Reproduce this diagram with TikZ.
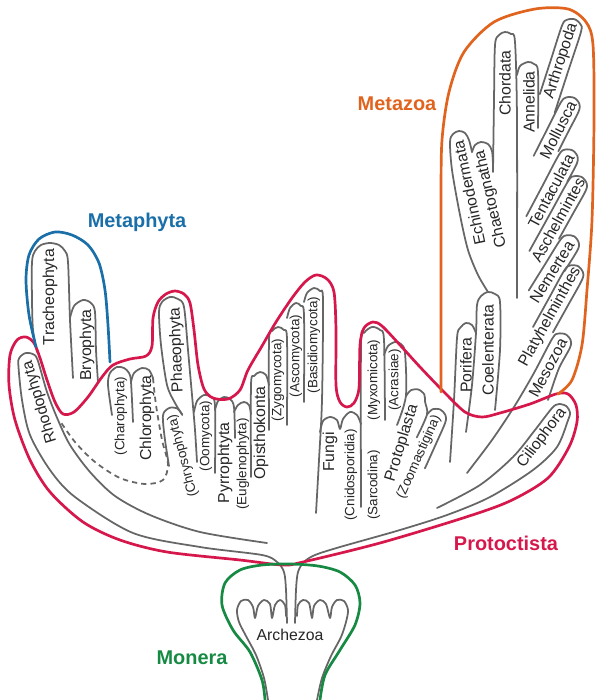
\documentclass[tikz,border=0pt]{standalone}
\usepackage{fontspec}
\setmainfont{Liberation Sans}
\definecolor{lineGray}{HTML}{666666}
\definecolor{protRed}{HTML}{D5174B}
\definecolor{metaBlue}{HTML}{1A6FA8}
\definecolor{zooOrange}{HTML}{E0641E}
\definecolor{moneraGreen}{HTML}{168A43}
\begin{document}
\begin{tikzpicture}[
    x=0.03cm, y=-0.03cm,
    branch/.style={draw=lineGray, line width=1.5pt, line cap=round, line join=round},
    linkdash/.style={branch, line cap=butt, dash pattern=on 4.5pt off 3.5pt},
    boundary/.style={line width=2.3pt, line cap=round, line join=round},
    taxon/.style={font=\fontsize{13.5}{14}\selectfont, inner sep=0pt, text=black!85},
    subtaxon/.style={font=\fontsize{11.5}{12}\selectfont, inner sep=0pt, text=black!85},
    kingdom/.style={font=\fontsize{17}{18}\selectfont\bfseries, inner sep=0pt}
]
\useasboundingbox (0,0) rectangle (597,700);

% -------------------------
% Trunk and Archezoa
% -------------------------
    \draw[branch] plot[smooth] coordinates {(268,700) (264,678) (256,655) (246,636) (239,622) (237,610) (241,601) (248,600) (253,607) (255,618) (258,606) (264,600) (270,604) (272,618) (275,605) (280,600) (285,605) (286,616)};
    \draw[branch] plot[smooth] coordinates {(297,616) (298,605) (303,600) (309,603) (312,618) (314,606) (320,600) (326,604) (330,618) (332,607) (337,600) (344,601) (348,610) (346,622) (341,637) (331,656) (322,678) (317,700)};

% -------------------------
% Left branch (Rhodophyta, Metaphyta, Chlorophyta)
% -------------------------
    % trunk line up into the Rhodophyta finger
    \draw[branch] plot[smooth] coordinates {(287,623) (286,590) (284,572) (277,562) (262,555) (200,547) (133,533) (75,497) (50,470) (30,435) (22,400) (18.4,365.7) (19.2,358.1) (25.1,353.2) (32.7,354.0) (37.6,359.9) (47,392) (58,420) (70,445) (90,472) (115,496) (150,515) (200,532) (267,543)};
    \draw[branch] plot[smooth] coordinates {(37,352) (33,330) (32,300) (32,262) (35,251) (41,245) (50,243) (59,245) (65,251) (68,262) (70,320) (73,378)};
    \draw[branch] plot[smooth] coordinates {(70,318) (74,306) (83,300) (91,303) (95,312) (96,350) (98,382)};
    \draw[branch] plot[smooth] coordinates {(112,415) (108,385) (110,373) (117,367) (124,368) (129,373) (131,382) (133,422)};
    \draw[branch] plot[smooth] coordinates {(131,382) (134,373) (142,368) (149,370) (153,378)};
    % dashed link back to the Metaphyta
    \draw[linkdash] plot[smooth] coordinates {(153,378) (156,405) (162,440) (168,464) (163,480) (145,484) (120,478) (95,462) (75,442) (60,421)};
    \draw[branch] plot[smooth] coordinates {(169,466) (165,440) (162.9,420) (163.9,412.4) (170.0,407.7) (177.6,408.7) (182.3,414.8)};
    \draw[branch] plot[smooth] coordinates {(182.3,414.8) (175,403) (167,385) (161,345) (159,312) (162,302) (170,297) (178,299) (184,307) (188,350) (192,395) (195,430) (197,462)};

% -------------------------
% Middle fingers
% -------------------------
    \draw[branch] plot[smooth] coordinates {(194,412) (197,401) (204,395) (211,397) (215,406) (215,473)};
    \draw[branch] plot[smooth] coordinates {(215,410) (218,401) (224,397) (230,399) (234,407) (235,438)};
    \draw[branch] plot[smooth] coordinates {(234,412) (238,405) (244,402) (249,405) (251,414)};
    \draw[branch] plot[smooth] coordinates {(251,477) (251,385) (254,376) (260,372) (266,375) (269,385)};
    \draw[branch] plot[smooth] coordinates {(269,430) (269,340) (272,331) (278,327) (284,330) (287,339) (287,425)};
    \draw[branch] plot[smooth] coordinates {(287,318) (290,308) (296,303) (301,306) (304,315) (304,402)};
    \draw[branch] plot[smooth] coordinates {(304,302) (307,293) (314,288) (320,291) (323,300) (322,400) (319,460) (316,513)};
    \draw[branch] plot[smooth] coordinates {(320,432) (323,421) (330,417) (337,420) (340,429) (343,419) (350,412) (357,415) (361,424)};
    \draw[branch] plot[smooth] coordinates {(361,507) (361,345) (364,333) (372,327) (380,330) (384,340) (385,420)};
    \draw[branch] plot[smooth] coordinates {(384,355) (388,346) (395,342) (401,344) (405,353) (405.9,396.2) (397,425)};
    \draw[branch] plot[smooth] coordinates {(405.9,396.2) (410.8,390.3) (418.4,389.5) (424.3,394.4) (425.1,402.0) (427.0,414.5) (416.8,437.4)};
    \draw[branch] plot[smooth] coordinates {(427.0,414.5) (432.5,409.3) (440.2,409.5) (445.4,415.0) (445.2,422.7) (435,446) (424.9,468.4)};

% -------------------------
% Right branch (Metazoa, Mesozoa, Ciliophora)
% -------------------------
    \draw[branch] plot[smooth] coordinates {(450,462) (454,400) (457,338) (460,328) (466,323) (472,325) (476,333)};
    \draw[branch] plot[smooth] coordinates {(466,432) (472,385) (476,333) (477,305) (481,296) (488,292) (495,294) (500,302) (500,350) (495,410)};
    \draw[branch] plot[smooth] coordinates {(488,292) (478,275) (468,250) (460,215) (452,170) (450,142) (453,134) (459,131) (465,133) (469,140) (472,152)};
    \draw[branch] plot[smooth] coordinates {(472,152) (475,145) (481,142) (488,144) (492,151) (493,165)};
    \draw[branch] plot[smooth] coordinates {(493,172) (494,100) (495,45) (499,35) (505,32) (511,34) (515,42) (517,120) (517,298)};
    \draw[branch] plot[smooth] coordinates {(517,75) (520,66) (528,62) (534,64) (538,72) (538,128)};
    % slanted fingers
    \draw[branch] plot[smooth] coordinates {(539.8,94.1) (550.9,59.8) (562.0,25.6) (566.9,19.8) (574.6,19.2) (580.4,24.2) (581.0,31.8) (568.6,69.8) (554.7,112.6)};
    \draw[branch] plot[smooth] coordinates {(533.7,155.8) (547.3,129.0) (560.9,102.3) (566.7,97.3) (574.3,97.9) (579.3,103.7) (578.7,111.3) (568.7,130.9) (558.3,151.4)};
    \draw[branch] plot[smooth] coordinates {(526.3,216.3) (542.7,185.4) (559.1,154.5) (565.0,149.6) (572.6,150.4) (577.5,156.3) (576.7,163.9) (567.3,181.6)};
    \draw[branch] plot[smooth] coordinates {(529.4,251.0) (548.8,216.0) (568.2,181.0) (574.2,176.2) (581.8,177.1) (586.6,183.1) (585.7,190.7) (572.6,214.3) (559.0,238.8)};
    \draw[branch] plot[smooth] coordinates {(528.7,290.5) (544.6,265.0) (560.5,239.6) (566.8,235.2) (574.3,236.4) (578.8,242.7) (577.5,250.2) (564.3,271.4)};
    \draw[branch] plot[smooth] coordinates {(533.0,327.0) (549.0,298.1) (564.5,270.1) (570.5,265.4) (578.1,266.2) (582.9,272.2) (582.0,279.9) (567.5,306.2) (552.9,332.4)};
    \draw[branch] plot[smooth] coordinates {(467,473) (492,440) (514,407) (533.5,373.8) (552.3,338.5) (558.2,333.6) (565.8,334.4) (570.7,340.3) (569.9,347.9) (558.7,368.9) (548,400)};
    % Ciliophora finger, its right side back to the trunk
    \draw[branch] plot[smooth] coordinates {(437,508) (480,485) (513,457) (535,430) (552.1,408.0) (558.7,404.1) (566.1,406.0) (570.0,412.6) (568.1,420.0) (557,447) (533,470) (490,497) (447,515) (400,530) (340,547) (315,555) (304,562) (298,572) (296,590) (295,623)};

% -------------------------
% Kingdom outlines
% -------------------------
    \draw[boundary, protRed] plot[smooth cycle] coordinates {(283,565) (240,560) (167,552) (120,540) (83,522) (50,492) (30,460) (15,420) (9,385) (10,355) (17,340) (26,337) (34,343) (40,358) (47,380) (55,402) (63,414) (74,412) (88,397) (102,377) (113,365) (130,359) (146,356) (152,346) (153,318) (158,302) (166,294) (175,291) (184,294) (190,303) (194,330) (198,365) (204,389) (213,398) (228,399) (240,390) (248,370) (262,346) (276,322) (292,298) (305,282) (316,275) (327,279) (334,292) (336,330) (336,385) (340,402) (347,407) (354,403) (359,388) (360,345) (364,328) (373,322) (382,326) (400,345) (420,367) (444,392) (465,412) (482,417) (500,413) (530,404) (556,394) (568,394) (576,405) (577,422) (569,447) (548,478) (510,501) (463,518) (380,543) (303,562)};
    \draw[boundary, metaBlue] plot[smooth] coordinates {(36,347) (29,315) (26,280) (29,255) (39,239) (55,232) (72,235) (88,245) (99,263) (105,290) (108,325) (110,362)};
    \draw[boundary, zooOrange] plot[smooth] coordinates {(441,392) (441,300) (441,200) (442,140) (449,92) (464,52) (494,22) (535,9) (568,9) (586,22) (593,45) (594,120) (592,220) (587,290) (582,345) (572,380) (558,394)};
    \draw[boundary, moneraGreen] plot[smooth] coordinates {(265,700) (262,680) (250,652) (233,630) (222,605) (225,583) (240,570) (262,565) (290,564) (318,566) (340,572) (355,585) (360,603) (355,625) (340,650) (325,675) (320,700)};

% -------------------------
% Taxon labels
% -------------------------
    \node[taxon, rotate=90] (trach) at (50,297) {Tracheophyta};
    \node[taxon, rotate=90] (bryo) at (87,345) {Bryophyta};
    \node[taxon, rotate=107] (rhodo) at (40,402) {Rhodophyta};
    \node[subtaxon, rotate=90] (charo) at (121,416) {(Charophyta)};
    \node[taxon, rotate=90] (chloro) at (147,418) {Chlorophyta};
    \node[taxon, rotate=92] (phaeo) at (177,350) {Phaeophyta};
    \node[subtaxon, rotate=105] (chryso) at (183,456) {(Chrysophyta)};
    \node[subtaxon, rotate=90] (oomy) at (206,436) {(Oomycota)};
    \node[taxon, rotate=90] (pyrro) at (225,463) {Pyrrophtyta};
    \node[subtaxon, rotate=90] (eugleno) at (243,464) {(Euglenophyta)};
    \node[taxon, rotate=90] (opistho) at (261,433) {Opisthokonta};
    \node[subtaxon, rotate=90] (zygo) at (278,380) {(Zygomycota)};
    \node[subtaxon, rotate=90] (asco) at (296,356) {(Ascomycota)};
    \node[subtaxon, rotate=90] (basidio) at (314,345) {(Basidiomycota)};
    \node[taxon, rotate=90] (fungi) at (330,452) {Fungi};
    \node[subtaxon, rotate=90] (cnido) at (351,475) {(Cnidosporidia)};
    \node[subtaxon, rotate=90] (myxo) at (374,380) {(Myxomicota)};
    \node[subtaxon, rotate=90] (sarco) at (374,485) {(Sarcodina)};
    \node[subtaxon, rotate=90] (acras) at (395,380) {(Acrasiae)};
    \node[taxon, rotate=73] (protopl) at (402,443) {Protoplasta};
    \node[subtaxon, rotate=66] (zoomast) at (419,457) {(Zoomastigina)};
    \node[taxon, rotate=90] (porif) at (466,365) {Porifera};
    \node[taxon, rotate=90] (coelent) at (488,350) {Coelenterata};
    \node[taxon, rotate=102] (echino) at (469,193) {Echinodermata};
    \node[taxon, rotate=103] (chaeto) at (491,199) {Chaetognatha};
    \node[taxon, rotate=90] (chord) at (505,83) {Chordata};
    \node[taxon, rotate=90] (annel) at (529,102) {Annelida};
    \node[taxon, rotate=72] (arthro) at (561,61) {Arthropoda};
    \node[taxon, rotate=63] (mollus) at (558,130) {Mollusca};
    \node[taxon, rotate=62] (tentac) at (551,191) {Tentaculata};
    \node[taxon, rotate=61] (aschel) at (558,220) {Aschelmintes};
    \node[taxon, rotate=58] (nemert) at (552,272) {Nemertea};
    \node[taxon, rotate=61] (platy) at (550,317) {Platyhelminthes};
    \node[taxon, rotate=62] (meso) at (548,368) {Mesozoa};
    \node[taxon, rotate=53] (cilio) at (542,438) {Ciliophora};
    \node[taxon] (archez) at (290,635) {Archezoa};

% -------------------------
% Kingdom labels
% -------------------------
    \node[kingdom, text=metaBlue] (metaphyta) at (137,222) {Metaphyta};
    \node[kingdom, text=zooOrange] (metazoa) at (397,104) {Metazoa};
    \node[kingdom, text=protRed] (protoctista) at (506,543) {Protoctista};
    \node[kingdom, text=moneraGreen] (monera) at (192,658) {Monera};
\end{tikzpicture}
\end{document}
